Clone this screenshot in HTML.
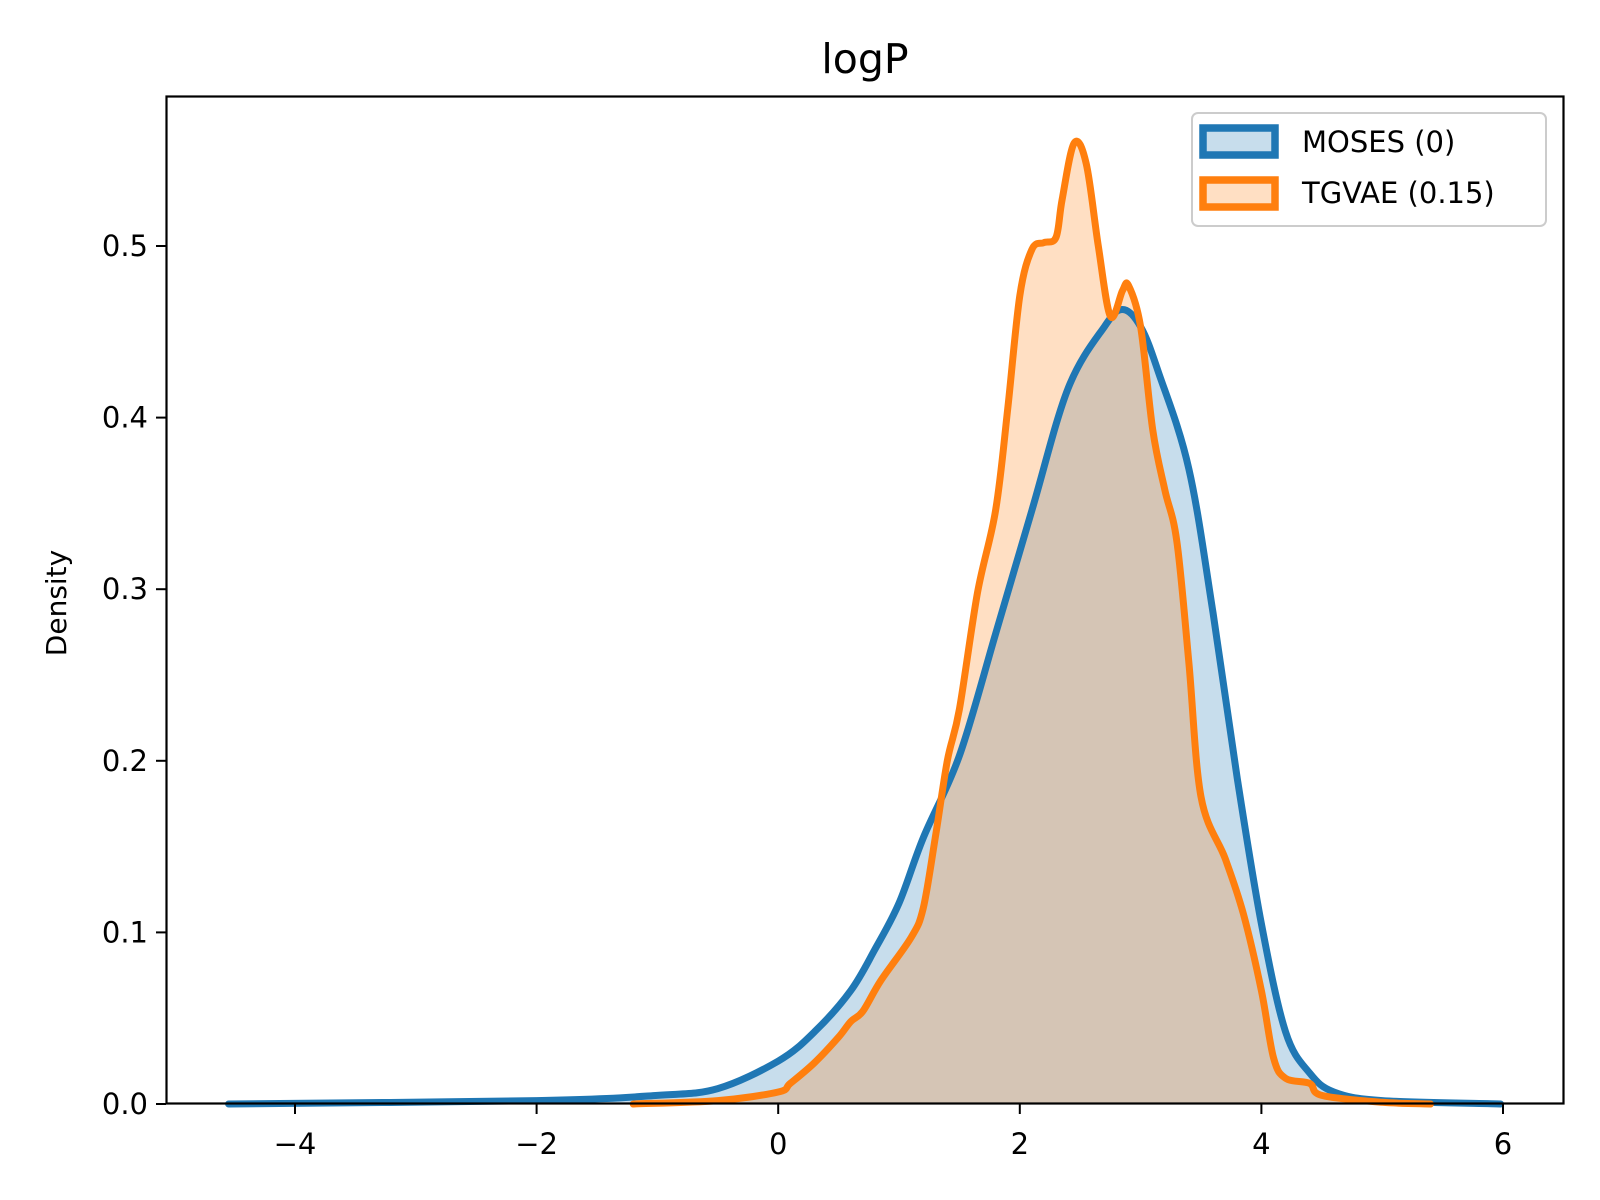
<!DOCTYPE html>
<html><head><meta charset="utf-8"><style>body{margin:0;background:#fff}svg{display:block;font-family:"DejaVu Sans","Liberation Sans",sans-serif}</style></head>
<body>
<svg id="chart" width="1600" height="1200" viewBox="0 0 1600 1200" xmlns="http://www.w3.org/2000/svg">
<rect x="0" y="0" width="1600" height="1200" fill="#fff"/>
<g id="fills"></g><g id="lines"></g>
<rect x="166.5" y="96.5" width="1397" height="1007" fill="none" stroke="#000" stroke-width="2.2"/>
<g id="axes"></g>
<text x="865" y="73" font-size="41" text-anchor="middle">logP</text>
<text transform="translate(66,603) rotate(-90)" font-size="28" text-anchor="middle">Density</text>
<g>
<rect x="1192" y="113" width="354" height="113" rx="6" fill="#fff" fill-opacity="0.8" stroke="#ccc" stroke-width="2"/>
<g><rect x="1203" y="128" width="72" height="27" fill="rgba(31,119,180,0.25)" stroke="#1f77b4" stroke-width="7.5"/><text x="1302" y="152" font-size="29">MOSES (0)</text></g>
<g><rect x="1203" y="180" width="72" height="27" fill="rgba(255,127,14,0.25)" stroke="#ff7f0e" stroke-width="7.5"/><text x="1302" y="203" font-size="29">TGVAE (0.15)</text></g>
</g>
</svg>
<script>
const xTicks=[-4,-2,0,2,4,6];
const yTicks=[0.0,0.1,0.2,0.3,0.4,0.5];
const mosesX=[-4.55,-2,-1,-0.5,0,0.3,0.6,0.8,1.0,1.2,1.5,1.8,2.1,2.4,2.7,2.85,3.0,3.15,3.4,3.6,3.8,4.0,4.2,4.4,4.6,5.0,5.98];
const mosesY=[0,0.002,0.005,0.009,0.025,0.042,0.066,0.09,0.117,0.155,0.203,0.274,0.346,0.417,0.453,0.463,0.453,0.426,0.37,0.286,0.19,0.105,0.042,0.018,0.007,0.002,0];
const tgvaeX=[-1.2,-0.5,0,0.1,0.3,0.5,0.6,0.7,0.85,1.1,1.2,1.3,1.4,1.5,1.65,1.8,1.9,2.0,2.1,2.2,2.3,2.35,2.45,2.55,2.65,2.75,2.85,2.9,3.0,3.1,3.2,3.3,3.4,3.5,3.7,3.85,4.0,4.1,4.2,4.4,4.5,5.0,5.4];
const tgvaeY=[0,0.002,0.007,0.012,0.024,0.039,0.048,0.054,0.072,0.097,0.114,0.155,0.2,0.23,0.298,0.346,0.405,0.471,0.498,0.502,0.505,0.527,0.56,0.548,0.5,0.459,0.474,0.477,0.453,0.393,0.358,0.328,0.257,0.179,0.143,0.111,0.066,0.027,0.015,0.012,0.005,0.001,0];
const X=v=>778.2+v*120.8, Y=v=>1104-v*1716;
const NS="http://www.w3.org/2000/svg";
const mk=(t,a,p)=>{const e=document.createElementNS(NS,t);for(const k in a)e.setAttribute(k,a[k]);p.appendChild(e);return e;};
const fills=document.getElementById('fills'),lines=document.getElementById('lines'),axes=document.getElementById('axes');
function smooth(P){
  let d='M'+P[0][0].toFixed(1)+','+P[0][1].toFixed(1);
  for(let i=0;i<P.length-1;i++){
    const p0=P[Math.max(0,i-1)],p1=P[i],p2=P[i+1],p3=P[Math.min(P.length-1,i+2)];
    const c1=[p1[0]+(p2[0]-p0[0])/6,p1[1]+(p2[1]-p0[1])/6];
    const c2=[p2[0]-(p3[0]-p1[0])/6,p2[1]-(p3[1]-p1[1])/6];
    d+=' C'+c1[0].toFixed(1)+','+c1[1].toFixed(1)+' '+c2[0].toFixed(1)+','+c2[1].toFixed(1)+' '+p2[0].toFixed(1)+','+p2[1].toFixed(1);
  }
  return d;
}
function series(xs,ys,color,rgba,name){
  const P=xs.map((x,i)=>[X(x),Y(ys[i])]);
  const d=smooth(P);
  const f=mk('path',{d:d+' L'+X(xs[xs.length-1])+','+Y(0)+' L'+X(xs[0])+','+Y(0)+' Z',fill:rgba},fills);
  
  
  const l=mk('path',{d:d,fill:'none',stroke:color,'stroke-width':7,'stroke-linejoin':'round','stroke-linecap':'round'},lines);
  
  
}
series(mosesX,mosesY,'#1f77b4','rgba(31,119,180,0.25)','moses');
series(tgvaeX,tgvaeY,'#ff7f0e','rgba(255,127,14,0.25)','tgvae');
xTicks.forEach(v=>{
  const t=mk('line',{x1:X(v),x2:X(v),y1:1104,y2:1114,stroke:'#000','stroke-width':2},axes);
  
  
  const s=mk('text',{x:X(v),y:1154,'font-size':29,'text-anchor':'middle'},axes);
  s.textContent=(v<0?'\u2212':'')+Math.abs(v);
  
  
});
yTicks.forEach(v=>{
  const t=mk('line',{x1:156,x2:166,y1:Y(v),y2:Y(v),stroke:'#000','stroke-width':2},axes);
  
  
  const s=mk('text',{x:148,y:Y(v)+10,'font-size':29,'text-anchor':'end'},axes);
  s.textContent=v.toFixed(1);
  
  
});
</script>
</body></html>
